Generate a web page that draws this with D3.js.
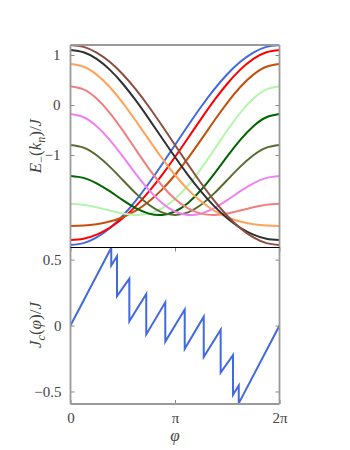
<!DOCTYPE html>
<html>
<head>
<meta charset="utf-8">
<script src="https://cdn.jsdelivr.net/npm/d3@7"></script>
<style>
body{margin:0;background:#fff}
svg{display:block}
text{font-family:"Liberation Serif",serif;fill:#444}
</style>
</head>
<body>
<svg width="350" height="450"></svg>
<script>
// phi in units of pi
var phiGrid = [0,0.125,0.25,0.375,0.5,0.625,0.75,0.875,1,1.125,1.25,1.375,1.5,1.625,1.75,1.875,2];

// E_-(k_n)/J, one array per level
var eBlue = [-2.8,-2.762,-2.648,-2.463,-2.214,-1.911,-1.565,-1.19,-0.8,-0.41,-0.035,0.311,0.614,0.863,1.048,1.162,1.2];
var eRed = [-2.702,-2.675,-2.592,-2.456,-2.265,-2.023,-1.733,-1.402,-1.04,-0.66,-0.277,0.091,0.425,0.707,0.922,1.056,1.102];
var eSienna = [-2.418,-2.41,-2.383,-2.331,-2.244,-2.114,-1.931,-1.693,-1.4,-1.062,-0.693,-0.316,0.044,0.36,0.607,0.764,0.818];
var eLightGreen = [-1.976,-1.995,-2.045,-2.111,-2.172,-2.2,-2.172,-2.068,-1.88,-1.61,-1.272,-0.893,-0.508,-0.156,0.128,0.312,0.376];
var eDarkGreen = [-1.418,-1.457,-1.566,-1.724,-1.902,-2.063,-2.172,-2.2,-2.13,-1.959,-1.699,-1.376,-1.028,-0.697,-0.424,-0.245,-0.182];
var eOlive = [-0.8,-0.853,-1.005,-1.232,-1.5,-1.768,-1.995,-2.147,-2.2,-2.147,-1.995,-1.768,-1.5,-1.232,-1.005,-0.853,-0.8];
var eViolet = [-0.182,-0.245,-0.424,-0.697,-1.028,-1.376,-1.699,-1.959,-2.13,-2.2,-2.172,-2.063,-1.902,-1.724,-1.566,-1.457,-1.418];
var eCoral = [0.376,0.312,0.128,-0.156,-0.508,-0.893,-1.272,-1.61,-1.88,-2.068,-2.172,-2.2,-2.172,-2.111,-2.045,-1.995,-1.976];
var eOrange = [0.818,0.764,0.607,0.36,0.044,-0.316,-0.693,-1.062,-1.4,-1.693,-1.931,-2.114,-2.244,-2.331,-2.383,-2.41,-2.418];
var eBlack = [1.102,1.056,0.922,0.707,0.425,0.091,-0.277,-0.66,-1.04,-1.402,-1.733,-2.023,-2.265,-2.456,-2.592,-2.675,-2.702];
var eBrown = [1.2,1.162,1.048,0.863,0.614,0.311,-0.035,-0.41,-0.8,-1.19,-1.565,-1.911,-2.214,-2.463,-2.648,-2.762,-2.8];

var levels = [eBlue,eRed,eSienna,eLightGreen,eDarkGreen,eOlive,eViolet,eCoral,eOrange,eBlack,eBrown];
var levelColors = ["#4169e1","#ff0000","#c4500c","#b5f5ad","#006400","#556b2f","#ee82ee","#f08080","#ffa35c","#303030","#8c4f3e"];

// J_c(phi)/J sawtooth
var jPhi = [0,0.39,0.39,0.445,0.445,0.563,0.563,0.725,0.725,0.907,0.907,1.093,1.093,1.275,1.275,1.437,1.437,1.555,1.555,1.61,1.61,2];
var jVal = [0,0.59,0.455,0.525,0.224,0.356,0.032,0.239,-0.067,0.176,-0.122,0.122,-0.176,0.067,-0.239,-0.032,-0.356,-0.224,-0.525,-0.455,-0.59,0];

var topTicks = [1,0,-1], topTickLabels = ["1","0","\u22121"];
var botTicks = [0.5,0,-0.5], botTickLabels = ["0.5","0","\u22120.5"];
var xTicks = [0,1,2], xTickLabels = ["0","\u03c0","2\u03c0"];

var svg = d3.select("svg");
var L = 70.5, R = 279.5, T1 = 45, MID = 247.5, B2 = 404;

var x = d3.scaleLinear().domain([0,2]).range([L,R]);
var yTop = d3.scaleLinear().domain([-2.85,1.2]).range([MID,T1]);
var yBot = d3.scaleLinear().domain([-0.595,0.592]).range([B2,MID]);

var defs = svg.append("defs");
defs.append("clipPath").attr("id","c1").append("rect")
  .attr("x",L).attr("y",T1).attr("width",R-L).attr("height",MID-T1);
defs.append("clipPath").attr("id","c2").append("rect")
  .attr("x",L).attr("y",MID-1).attr("width",R-L).attr("height",B2-MID+1);

var eLine = d3.line()
  .x(function(d,i){return x(phiGrid[i]);})
  .y(function(d){return yTop(d);})
  .curve(d3.curveNatural);

svg.append("g").attr("clip-path","url(#c1)")
  .selectAll("path").data(levels).enter().append("path")
  .attr("d",eLine)
  .attr("fill","none")
  .attr("stroke",function(d,i){return levelColors[i];})
  .attr("stroke-width",2);

var jLine = d3.line()
  .x(function(d,i){return x(jPhi[i]);})
  .y(function(d){return yBot(d);});

svg.append("path").datum(jVal)
  .attr("clip-path","url(#c2)")
  .attr("d",jLine)
  .attr("fill","none")
  .attr("stroke","#4169e1")
  .attr("stroke-width",2);

function styleAxis(g){
  g.select(".domain").remove();
  g.selectAll(".tick line").attr("stroke","#888");
  g.selectAll(".tick text").style("font-size","15px").attr("fill","#444");
}

// top panel ticks
svg.append("g").attr("transform","translate("+L+",0)")
  .call(d3.axisLeft(yTop).tickValues(topTicks).tickFormat(function(d,i){return topTickLabels[i];}).tickSize(-4).tickPadding(10))
  .call(styleAxis);
svg.append("g").attr("transform","translate("+R+",0)")
  .call(d3.axisRight(yTop).tickValues(topTicks).tickFormat("").tickSize(-4))
  .call(styleAxis);

// bottom panel ticks
svg.append("g").attr("transform","translate("+L+",0)")
  .call(d3.axisLeft(yBot).tickValues(botTicks).tickFormat(function(d,i){return botTickLabels[i];}).tickSize(-4).tickPadding(9))
  .call(styleAxis);
svg.append("g").attr("transform","translate("+R+",0)")
  .call(d3.axisRight(yBot).tickValues(botTicks).tickFormat("").tickSize(-4))
  .call(styleAxis);
svg.append("g").attr("transform","translate(0,"+B2+")")
  .call(d3.axisBottom(x).tickValues(xTicks).tickFormat(function(d,i){return xTickLabels[i];}).tickSize(-4).tickPadding(8))
  .call(styleAxis);
svg.append("g").attr("transform","translate(0,"+MID+")")
  .call(d3.axisTop(x).tickValues(xTicks).tickFormat("").tickSize(-4))
  .call(styleAxis);

// spines
var spine = "#9a9a9a";
function seg(x1,y1,x2,y2,c,w){
  svg.append("line").attr("x1",x1).attr("y1",y1).attr("x2",x2).attr("y2",y2)
    .attr("stroke",c).attr("stroke-width",w);
}
seg(L,T1,R,T1,spine,1.8);
seg(L,T1,L,B2,spine,1.8);
seg(R,T1,R,B2,spine,1.8);
seg(L,B2,R,B2,spine,1.8);
seg(L,MID,R,MID,"#000",1.2);

// math labels
function mathLabel(g, parts){
  var t = g.append("text").attr("text-anchor","middle").style("font-size","17px").attr("fill","#444");
  parts.forEach(function(p){
    var s = t.append("tspan").text(p[0]);
    if(p[1]) s.style("font-style","italic");
    if(p[2]===1) s.attr("dy",3.5).style("font-size","12px");
    if(p[2]===-1) s.attr("dy",-3.5);
  });
  return t;
}
mathLabel(svg.append("g").attr("transform","translate(41,146) rotate(-90)"),
  [["E",1],["\u2212",0,1],["(",0,-1],["k",1],["n",1,1],[")/",0,-1],["J",1]]);
mathLabel(svg.append("g").attr("transform","translate(41,325) rotate(-90)"),
  [["J",1],["c",1,1],["(",0,-1],["\u03c6",1],[")/",0],["J",1]]);
mathLabel(svg.append("g").attr("transform","translate(175,441)"),
  [["\u03c6",1]]);
</script>
</body>
</html>
